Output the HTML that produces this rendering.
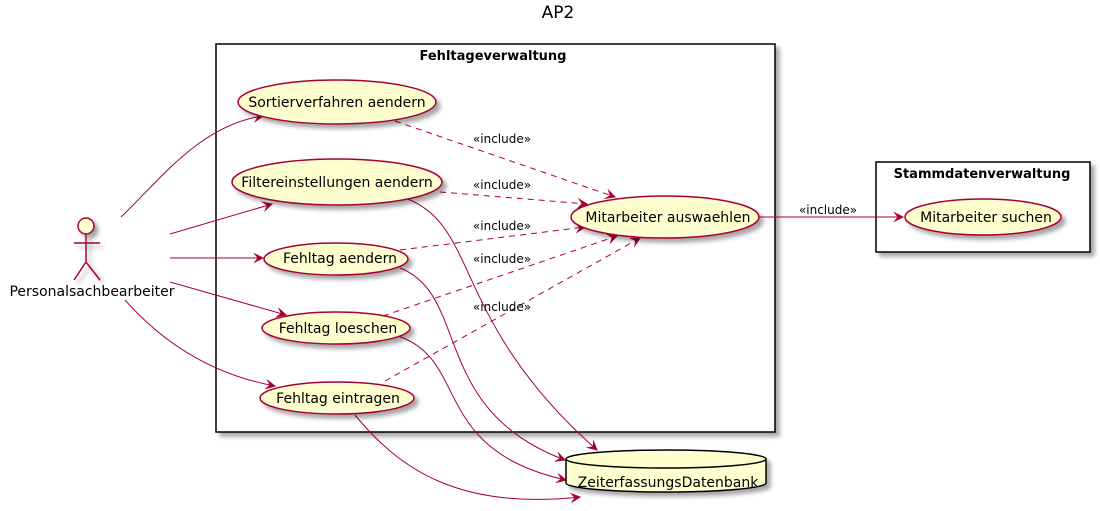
<!DOCTYPE html>
<html><head><meta charset="utf-8"><style>html,body{margin:0;padding:0;background:#fff}svg{display:block}text{font-family:"DejaVu Sans","Liberation Sans",sans-serif}</style></head><body>
<svg width="1100" height="511" viewBox="0 0 1100 511" xmlns="http://www.w3.org/2000/svg">
<defs>
<filter id="sh" x="-10%" y="-10%" width="130%" height="140%"><feGaussianBlur in="SourceAlpha" stdDeviation="2"/><feOffset dx="4" dy="4"/><feComponentTransfer><feFuncA type="linear" slope="0.35"/></feComponentTransfer><feMerge><feMergeNode/><feMergeNode in="SourceGraphic"/></feMerge></filter>
<marker id="a" viewBox="0 0 10 10" refX="9" refY="5" markerWidth="11" markerHeight="11" orient="auto" markerUnits="userSpaceOnUse"><path d="M0,0 L10,5 L0,10 L4,5 Z" fill="#A80036"/></marker>
</defs>
<text x="558" y="18" font-size="17" text-anchor="middle">AP2</text>
<rect x="216" y="44" width="559" height="388" fill="#fff" stroke="#000" stroke-width="1.5" filter="url(#sh)"/>
<text x="493" y="60" font-size="13" font-weight="bold" text-anchor="middle">Fehltageverwaltung</text>
<rect x="876" y="162" width="214" height="90" fill="#fff" stroke="#000" stroke-width="1.5" filter="url(#sh)"/>
<text x="982" y="178" font-size="13" font-weight="bold" text-anchor="middle">Stammdatenverwaltung</text>
<g fill="none" stroke="#A80036" stroke-width="1">
<path d="M121,217 C160,180 200,125 263,116" marker-end="url(#a)"/>
<path d="M170,234 L272,204" marker-end="url(#a)"/>
<path d="M170,258 L263,258" marker-end="url(#a)"/>
<path d="M170,282 L286,315" marker-end="url(#a)"/>
<path d="M125,300 C165,345 215,375 275,386" marker-end="url(#a)"/>
<path d="M405,198 C480,225 450,320 597,450" marker-end="url(#a)"/>
<path d="M400,268 C470,295 430,410 565,460" marker-end="url(#a)"/>
<path d="M398,336 C470,360 430,450 566,480" marker-end="url(#a)"/>
<path d="M355,415 C400,470 460,510 580,497" marker-end="url(#a)"/>
<path d="M759,217 L903,217" marker-end="url(#a)"/>
<g stroke-dasharray="6,5">
<path d="M395,121 L615,197" marker-end="url(#a)"/>
<path d="M440,192 L587,204" marker-end="url(#a)"/>
<path d="M400,250 L585,227" marker-end="url(#a)"/>
<path d="M383,316 L617,236" marker-end="url(#a)"/>
<path d="M385,381 L640,238" marker-end="url(#a)"/>
</g>
</g>
<g font-size="12" text-anchor="middle">
<text x="502" y="143">«include»</text>
<text x="502" y="189">«include»</text>
<text x="502" y="230">«include»</text>
<text x="502" y="263">«include»</text>
<text x="502" y="311">«include»</text>
<text x="828" y="214">«include»</text>
</g>
<g fill="#FEFECE" stroke="#A80036" stroke-width="1.5" filter="url(#sh)">
<ellipse cx="337" cy="102" rx="99" ry="22"/>
<ellipse cx="337" cy="182" rx="105" ry="23"/>
<ellipse cx="665" cy="217" rx="94" ry="21"/>
<ellipse cx="336" cy="259" rx="72" ry="16"/>
<ellipse cx="336" cy="328" rx="74" ry="16"/>
<ellipse cx="337" cy="398" rx="77" ry="16"/>
<ellipse cx="983" cy="217" rx="78" ry="18"/>
</g>
<g fill="#FEFECE" stroke="#000" stroke-width="1.5" filter="url(#sh)">
<path d="M566,459 L566,483 A100,9 0 0 0 766,483 L766,459 A100,9 0 0 0 566,459 Z"/>
</g>
<path d="M566,459 A100,9 0 0 0 766,459" fill="none" stroke="#000" stroke-width="1.5"/>
<g font-size="14" text-anchor="middle">
<text x="337" y="107">Sortierverfahren aendern</text>
<text x="337" y="187">Filtereinstellungen aendern</text>
<text x="668" y="222">Mitarbeiter auswaehlen</text>
<text x="340" y="263">Fehltag aendern</text>
<text x="338" y="333">Fehltag loeschen</text>
<text x="338" y="403">Fehltag eintragen</text>
<text x="986" y="222">Mitarbeiter suchen</text>
<text x="668" y="487">ZeiterfassungsDatenbank</text>
<text x="92" y="296">Personalsachbearbeiter</text>
</g>
<g stroke="#A80036" stroke-width="1.5" fill="none" filter="url(#sh)">
<circle cx="86" cy="226" r="8" fill="#FEFECE"/>
<path d="M86,234 L86,262 M74,243 L100,243 M74,280 L86,262 L100,280"/>
</g>
</svg>
</body></html>
